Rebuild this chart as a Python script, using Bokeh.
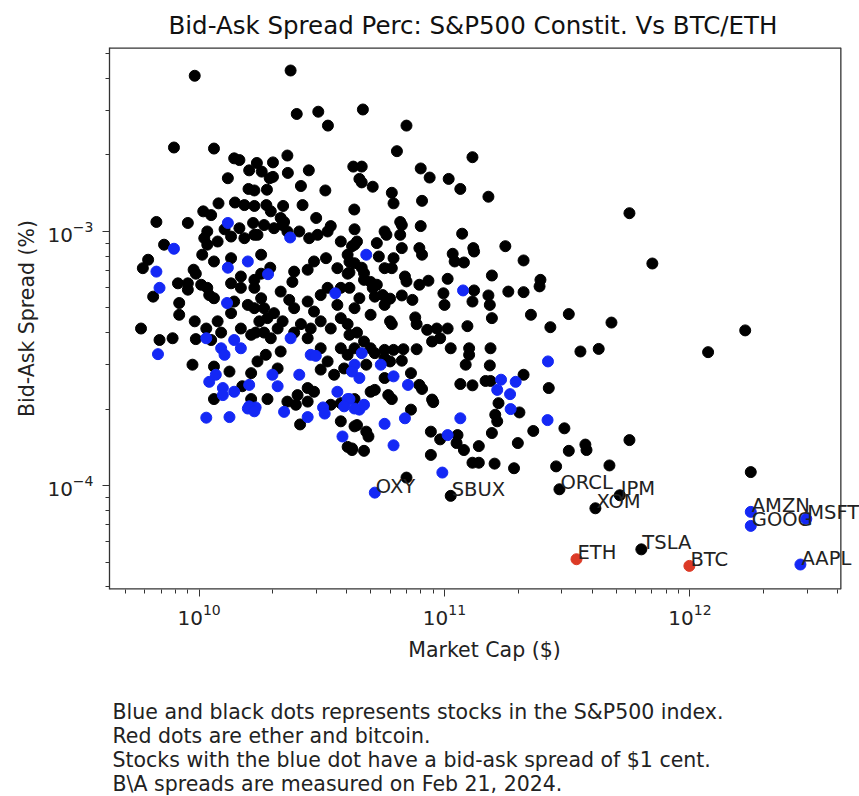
from bokeh.plotting import figure
from bokeh.models import FixedTicker, LogTickFormatter, Title, ColumnDataSource, LabelSet
from bokeh.embed import file_html
from bokeh.resources import INLINE
from bokeh.core.properties import value

# ---- data: market cap in $ billions, bid-ask spread in units of 1e-4 % ----
black_pts = [
    (9.6,41),(23.6,43),(25,29),(30.6,29.6),(33.5,26.1),(7.9,21.4),(11.5,21.2),(13.9,19.4),(14.6,19.1),(17.2,18.6),
    (20,18.7),(22.9,19.9),(42.5,18.0),(16,17.4),(18,17.2),(19.4,16.2),(20,16.4),(23,17.0),(28,17.4),(13.1,16.2),
    (26,15.1),(15.9,14.7),(16.8,14.5),(18.9,14.6),(32.7,14.5),(42.9,12.2),(12,12.9),(14,13.0),(15.3,12.7),(16.8,12.6),
    (18.8,12.7),(19.6,12.0),(22,12.6),(26.4,12.7),(10.4,12.0),(11.2,11.6),(6.7,10.9),(9.0,10.8),(16.6,10.8),(21.5,11.3),
    (22.2,10.9),(30,11.3),(34.4,10.5),
    (46.5,30.2),(70,26.1),(64,20.7),(130,19.6),(46,18.0),(45,16.1),(46,15.6),(51,15.0),(80,17.7),(87,16.3),
    (104,16.1),(116,14.7),(151,13.7),(61,14.2),(62,12.9),(81,13.2),(66,10.9),(80,10.5),
    (567,11.8),(703,7.48),(479,4.38),(425,3.45),(1680,4.08),(1186,3.35),(567,1.51),(470,1.20),(1770,1.13),
    (285,1.19),(192,1.17),(160,1.22),(138,1.23),(130,1.23),(138,1.43),(120,1.38),(112,1.47),(113,1.58),(96,1.52),
    (88,1.63),(88,1.32),(70,1.075),(73,1.99),(44,1.73),(48,1.63),(49,1.56),(42,1.40),(47,1.37),(202,1.94),
    (161,1.90),(164,1.79),(166,2.11),(156,1.61),(199,1.47),(230,1.64),(308,1.68),(321,1.37),(375,1.45),(379,1.38),
    (90,2.13),
    (118,9.8),(177,8.75),(131,8.6),(132,8.34),(210,7.69),(108,8.17),(110,7.62),(120,7.55),(156,6.71),(246,6.45),
    (244,6.08),(182,5.8),(210,5.77),(132,5.86),(130,5.3),(151,5.6),(153,5.14),(99,5.71),(100,5.14),(103,6.51),
    (86,6.4),(79,6.17),(69,6.65),(70,6.36),(67,5.6),(74,5.38),(156,4.56),(225,4.70),(321,4.73),(270,4.20),
    (124,4.24),(85,4.10),(93,4.15),(103,4.15),(96,3.80),(76,4.59),(60,4.43),(61,4.32),(50,4.70),(57,5.14),
    (45,5.46),(52,5.54),(56,5.62),(60,5.44),(41,6.0),(50,6.33),(53,6.17),(62,7.85),(57,7.17),(61,7.17),
    (53,9.0),(54,7.97),(57,10),(58,9.7),(66,9.7),(67,10.6),(67,8.6),(79,8.6),(81,8.1),(43,10.2),
    (44,9.13),(42,8.75),(43,7.5),(46,7.2),(47,6.85),(106,3.47),(126,3.47),(126,3.27),(154,3.47),(68,3.44),
    (77,3.44),(358,3.37),(67,3.10),(73,2.77),(79,2.49),(81,2.40),(89,2.18),(122,2.99),(153,2.97),(116,2.51),
    (130,2.48),(147,2.58),(154,2.58),(210,2.73),(266,2.42),(41,3.92),(44,4.0),(47,3.69),(50,3.47),(52,3.32),
    (57,3.42),(48,2.99),(57,3.17),(50,2.34),(52,2.38),(59,2.27),(61,2.19),(41,7.6),(41,6.9),(47,6.45),
    (51,6.0),(77,4.32),(89,3.69),(62,3.42),(57,2.65),(60,3.08),
    (10.8,10.0),(12.7,10.2),(14.6,10.3),(16.8,9.7),(18.4,10.6),(20.2,10.3),(21.9,10.6),(22.9,10.0),(25.6,10.0),(28.1,9.41),
    (30.4,9.7),(33.4,10.0),(37.8,9.13),(40.3,8.1),(43,8.87),(10.5,9.41),(10.8,8.87),(11.9,9.13),(13.5,9.55),(15.3,9.41),
    (17.3,9.7),(7.2,8.87),(6.2,7.74),(5.9,7.17),(6.5,5.54),(9.5,7.07),(9.7,6.82),(8.2,6.25),(9.0,6.25),(9.0,5.9),
    (10.2,6.17),(10.8,6.0),(11,5.62),(10.3,8.1),(11.5,7.62),(13.5,7.85),(17.9,8.1),(19.5,7.2),(14.8,6.65),(14.8,6.0),
    (13.5,6.25),(16.8,6.45),(17.9,6.82),(21.5,5.8),(24,6.33),(24.4,6.95),(27.7,7.07),(29.4,7.62),(32.9,7.85),(36.6,7.17),
    (40.3,6.82),(37.8,6.0),(33.4,6.0),(31.3,5.62),(17.9,5.46),(16.8,4.99),(18.4,4.99),(19,4.56),(20.2,4.77),(21.9,4.43),
    (20.9,4.15),(13.5,4.77),(11.9,4.43),(10.7,4.15),(8.3,5.23),(8.3,4.70),(5.8,4.15),(6.9,3.74),(7.8,3.80),(9.7,3.77),
    (11.2,3.74),(9.4,2.99),(11.5,2.94),(13.3,2.81),(11.5,2.19),(15,2.46),(16.3,2.77),(17.3,3.08),(18.7,3.27),(21.5,3.37),
    (20.9,2.89),(16.3,2.19),(19,2.19),(22.9,2.14),(25.2,2.27),(27.7,2.42),(27.7,3.80),(31.3,3.47),(33.4,3.08),(31.3,2.86),
    (35.5,2.73),(39,2.89),(40.3,3.27),(37.8,3.47),(43,3.47),(27.7,2.14),(29.4,2.34),(37.8,2.11),(43,2.19),(16.8,6.0),
    (15.8,5.14),(17.6,4.43),(17,4.0),(18.4,4.0),(19.6,3.80),(24.4,4.0),(26,4.32),(28.5,4.15),(31.3,4.43),(34.4,4.15),
    (37.8,4.56),(40.3,4.32),(43,4.99),(36.6,5.14),(29.4,4.84),(24.4,4.99),(23.3,5.38),(27.7,5.30),(13.9,5.30),(11.5,5.46),
    (12.3,4.0),(9.6,4.43),(14.8,4.15),(16.3,3.92),
    (25.8,1.74),(37.8,1.79),(40.3,1.42),(42,1.38),(24.8,2.08),(34.4,2.08),(43,1.71),
]

blue_pts = [
    (13.1,10.8),(103,1.58),(98,1.125),(116,1.84),(69,1.84),(57,1.75),(62,1.44),(45,1.99),(47,2.08),(186,2.0),
    (263,1.81),(48,8.1),(119,5.86),(62,2.69),(71,2.49),(170,2.61),(195,2.56),(164,2.38),(185,2.29),(264,3.08),
    (46,3.32),(43,2.99),(45,2.65),(55,2.99),(41,2.19),
    (7.9,8.55),(23.5,9.47),(6.7,6.95),(6.9,6.0),(13.1,7.2),(15.8,7.62),(19.1,6.79),(35.9,5.71),(13,5.23),(6.8,3.29),
    (10.7,3.80),(12.3,3.47),(12.7,3.27),(13.9,3.74),(14.8,3.47),(11,2.56),(11.7,2.73),(12.5,2.42),(12.5,2.27),(13.9,2.34),
    (16,2.49),(19.9,2.73),(20.9,2.46),(23.6,3.80),(25.6,2.73),(16,2.05),(17,2.03),(28.5,3.27),(29.9,3.24),(36.6,2.34),
    (40.3,2.19),(42,2.81),(32,2.03),
    (10.7,1.85),(13.3,1.86),(15.8,2.01),(16.8,1.96),(22.2,1.95),(27.7,1.86),(32.5,1.92),(38.4,1.56),(39,2.05),(43,2.01),
]

label_names = ["OXY", "SBUX", "ORCL", "JPM", "XOM", "AMZN", "GOOG", "MSFT", "TSLA", "ETH", "BTC", "AAPL"]
label_mcap_bn = [52, 106, 294, 518, 412, 1770, 1770, 2980, 634, 345, 995, 2820]
label_spread_e4 = [0.938, 0.911, 0.967, 0.916, 0.814, 0.788, 0.694, 0.74, 0.561, 0.513, 0.483, 0.489]
label_group = ["blue", "black", "black", "black", "black", "blue", "blue", "blue", "black", "red", "red", "blue"]

x_major = [1e10, 1e11, 1e12]
y_major = [1e-4, 1e-3]

title_text = "Bid-Ask Spread Perc: S&P500 Constit. Vs BTC/ETH"
x_label = "Market Cap ($)"
y_label = "Bid-Ask Spread (%)"
notes = [
    "Blue and black dots represents stocks in the S&P500 index.",
    "Red dots are ether and bitcoin.",
    "Stocks with the blue dot have a bid-ask spread of $1 cent.",
    "B\\A spreads are measured on Feb 21, 2024.",
]

COLORS = {"black": "black", "blue": "#1428f5", "red": "#dc3a26"}
FONT = "DejaVu Sans"
EDGE = "#333333"

# axes limits (the drawn box), plus extra room at the right for labels that overflow the box
x_lo, x_hi = 10 ** 9.635, 10 ** 12.615
y_lo, y_hi = 10 ** -4.409, 10 ** -2.276
x_view_hi = 10 ** 12.691

def to_xy(pts):
    return [m * 1e9 for m, s in pts], [s * 1e-4 for m, s in pts]

p = figure(
    x_axis_type="log", y_axis_type="log",
    x_range=(x_lo, x_view_hi), y_range=(y_lo, y_hi),
    frame_width=750, frame_height=542,
    min_border_left=109, min_border_right=0, min_border_top=0, min_border_bottom=0,
    output_backend="svg", toolbar_location=None,
)
p.title.text = title_text
p.title.text_font = FONT
p.title.text_font_size = "24.5px"
p.title.text_font_style = "normal"
p.title.align = "left"
p.title.offset = 59
p.title.text_color = "#111111"
p.title.standoff = 16

p.grid.visible = False
p.outline_line_color = None
p.background_fill_color = None
p.border_fill_color = "white"

# the box of the axes
p.line([x_lo, x_hi], [y_lo, y_lo], line_color=EDGE, line_width=2.6)
p.line([x_lo, x_hi], [y_hi, y_hi], line_color=EDGE, line_width=2.6)
p.line([x_hi, x_hi], [y_lo, y_hi], line_color=EDGE, line_width=1.3)

# groups
bx, by = to_xy(black_pts)
lb = [(m, s) for m, s, g in zip(label_mcap_bn, label_spread_e4, label_group) if g == "black"]
lbx, lby = to_xy(lb)
p.scatter(bx + lbx, by + lby, size=11, color=COLORS["black"])

ux, uy = to_xy(blue_pts)
lu = [(m, s) for m, s, g in zip(label_mcap_bn, label_spread_e4, label_group) if g == "blue"]
lux, luy = to_xy(lu)
p.scatter(ux + lux, uy + luy, size=11, color=COLORS["blue"])

lr = [(m, s) for m, s, g in zip(label_mcap_bn, label_spread_e4, label_group) if g == "red"]
rx, ry = to_xy(lr)
p.scatter(rx, ry, size=11, color=COLORS["red"])

src = ColumnDataSource(dict(
    x=[m * 1e9 for m in label_mcap_bn], y=[s * 1e-4 for s in label_spread_e4], t=label_names))
labels = LabelSet(x="x", y="y", text="t", source=src, text_font=value(FONT), text_font_size=value("19.5px"),
                  text_align="left", text_baseline="alphabetic", text_color="#222222", x_offset=1)
p.add_layout(labels)

x_minor = [k * 10.0 ** e for e in (9, 10, 11, 12) for k in range(2, 10) if k * 10.0 ** e < x_hi]
y_minor = [k * 10.0 ** e for e in (-5, -4, -3) for k in range(2, 10)]
p.xaxis.ticker = FixedTicker(ticks=x_major, minor_ticks=x_minor)
p.yaxis.ticker = FixedTicker(ticks=y_major, minor_ticks=y_minor)
p.xaxis.formatter = LogTickFormatter()
p.yaxis.formatter = LogTickFormatter()

for ax in (p.xaxis[0], p.yaxis[0]):
    ax.major_label_text_font = FONT
    ax.major_label_text_font_size = "20px"
    ax.major_label_text_color = "#222222"
    ax.axis_label_text_font = FONT
    ax.axis_label_text_font_size = "20.5px"
    ax.axis_label_text_font_style = "normal"
    ax.axis_label_text_color = "#222222"
    ax.axis_line_color = EDGE
    ax.axis_line_width = 1.3
    ax.major_tick_line_color = EDGE
    ax.minor_tick_line_color = EDGE
    ax.major_tick_out = 7
    ax.major_tick_in = 0
    ax.minor_tick_out = 4
    ax.minor_tick_in = 0
p.xaxis.axis_line_color = None
p.xaxis.axis_label = x_label
p.yaxis.axis_label = y_label
p.xaxis.major_label_standoff = 7
p.yaxis.major_label_standoff = 9
p.xaxis.axis_label_standoff = 10
p.yaxis.axis_label_standoff = 5

spacer = Title(text=" ", text_font_size="2px", standoff=29)
p.add_layout(spacer, "below")
note = Title(text="\n".join(notes), align="left", text_font=FONT, text_font_size="20.5px",
             text_font_style="normal", text_color="#222222", offset=3, standoff=0,
             text_line_height=1.0)
p.add_layout(note, "below")

open("out.html", "w").write(file_html(p, INLINE))
